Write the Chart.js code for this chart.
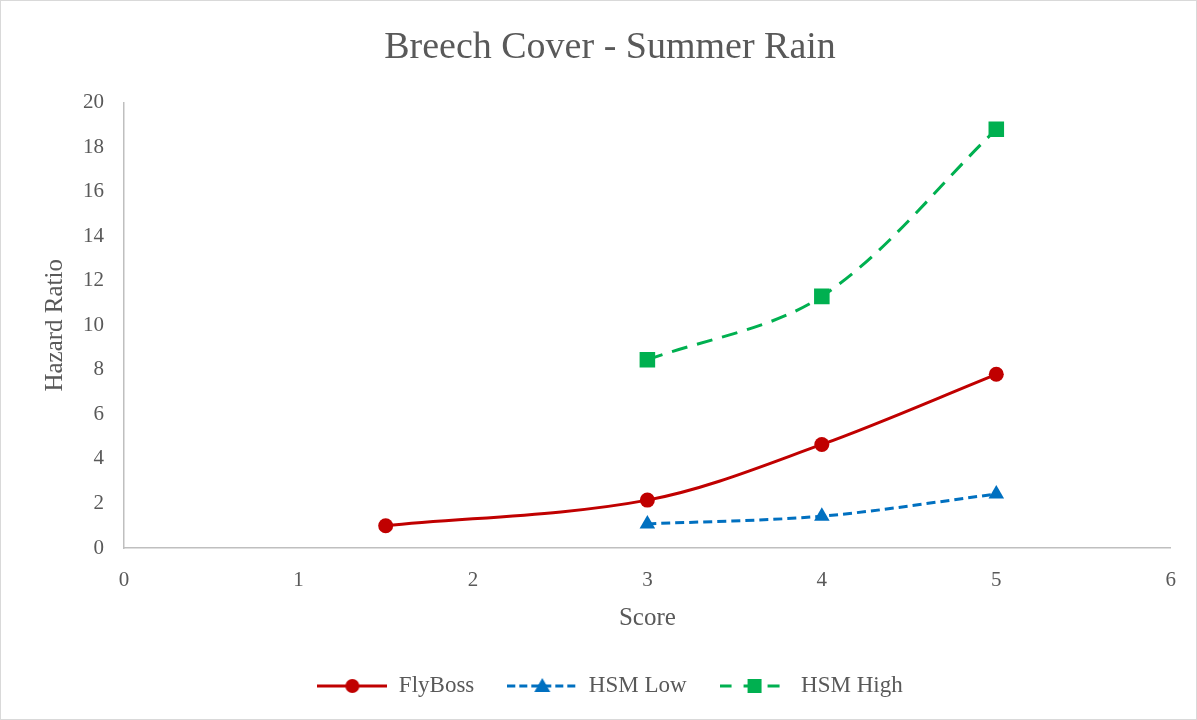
<!DOCTYPE html>
<html>
<head>
<meta charset="utf-8">
<script src="https://cdn.jsdelivr.net/npm/chart.js@4/dist/chart.umd.min.js"></script>
<style>
  html, body { margin: 0; padding: 0; background: #fff; }
  #wrap { width: 1195px; height: 718px; border: 1px solid #d9d9d9; position: relative; }
</style>
</head>
<body>
<div id="wrap"><canvas id="chart"></canvas></div>
<script>
"use strict";
const flyBossScore = [1.5, 3, 4, 5];
const flyBossHR = [1.0, 2.15, 4.65, 7.8];
const hsmScore = [3, 4, 5];
const hsmLowHR = [1.08, 1.43, 2.42];
const hsmHighHR = [8.45, 11.3, 18.8];
const seriesNames = ['FlyBoss', 'HSM Low', 'HSM High'];
const xTicks = [0, 1, 2, 3, 4, 5, 6];
const yTicks = [0, 2, 4, 6, 8, 10, 12, 14, 16, 18, 20];

const red = '#C00000';
const blue = '#0070C0';
const green = '#00B050';
const textGray = '#595959';
const serif = "'Liberation Serif', 'DejaVu Serif', serif";

function toPoints(xs, ys) {
    return xs.map((x, i) => ({ x: x, y: ys[i] }));
}

// legend icon: a short piece of the line with its marker in the middle
function makeLegendIcon(color, dash, marker) {
    const c = document.createElement('canvas');
    c.width = 70;
    c.height = 22;
    const ctx = c.getContext('2d');
    ctx.strokeStyle = color;
    ctx.fillStyle = color;
    ctx.lineWidth = 3;
    ctx.setLineDash(dash);
    ctx.beginPath();
    ctx.moveTo(0, 11);
    ctx.lineTo(70, 11);
    ctx.stroke();
    ctx.setLineDash([]);
    ctx.beginPath();
    if (marker === 'circle') {
        ctx.arc(35, 11, 7, 0, Math.PI * 2);
    } else if (marker === 'triangle') {
        ctx.moveTo(35, 3);
        ctx.lineTo(43, 17);
        ctx.lineTo(27, 17);
        ctx.closePath();
    } else {
        ctx.rect(28, 4, 14, 14);
    }
    ctx.fill();
    return c;
}

const legendIcons = [
    makeLegendIcon(red, [], 'circle'),
    makeLegendIcon(blue, [8, 4], 'triangle'),
    makeLegendIcon(green, [12, 12], 'rect')
];

const ctx = document.getElementById('chart');
const chart = new Chart(ctx, {
    type: 'scatter',
    data: {
        datasets: [
            {
                label: seriesNames[0],
                data: toPoints(flyBossScore, flyBossHR),
                showLine: true,
                borderColor: red,
                backgroundColor: red,
                borderWidth: 3,
                tension: 0.33,
                pointStyle: 'circle',
                pointRadius: 7.5,
                pointHoverRadius: 7.5,
                pointBorderWidth: 0
            },
            {
                label: seriesNames[1],
                data: toPoints(hsmScore, hsmLowHR),
                showLine: true,
                borderColor: blue,
                backgroundColor: blue,
                borderWidth: 3,
                borderDash: [9, 5],
                tension: 0.33,
                pointStyle: 'triangle',
                pointRadius: 9,
                pointHoverRadius: 9,
                pointBorderWidth: 0
            },
            {
                label: seriesNames[2],
                data: toPoints(hsmScore, hsmHighHR),
                showLine: true,
                borderColor: green,
                backgroundColor: green,
                borderWidth: 3,
                borderDash: [16, 10],
                tension: 0.33,
                pointStyle: 'rect',
                pointRadius: 11,
                pointHoverRadius: 11,
                pointBorderWidth: 0
            }
        ]
    },
    options: {
        responsive: true,
        maintainAspectRatio: false,
        animation: false,
        layout: { padding: { left: 48, right: 25, top: 0, bottom: 11.5 } },
        plugins: {
            title: {
                display: true,
                text: 'Breech Cover - Summer Rain',
                color: textGray,
                font: { family: serif, size: 38, weight: 'normal' },
                padding: { top: 24, bottom: 32 }
            },
            legend: {
                position: 'bottom',
                labels: {
                    usePointStyle: true,
                    pointStyleWidth: 70,
                    padding: 33,
                    color: textGray,
                    font: { family: serif, size: 23 },
                    generateLabels: (c) => {
                        const items = Chart.defaults.plugins.legend.labels.generateLabels(c);
                        items.forEach((item, i) => { item.pointStyle = legendIcons[i]; });
                        return items;
                    }
                }
            },
            tooltip: { enabled: false }
        },
        scales: {
            x: {
                type: 'linear',
                min: xTicks[0],
                max: xTicks[xTicks.length - 1],
                afterBuildTicks: (scale) => { scale.ticks = xTicks.map(v => ({ value: v })); },
                grid: { display: false, drawTicks: false },
                border: { display: true, color: '#bfbfbf', width: 1.5 },
                ticks: { color: textGray, padding: 20, font: { family: serif, size: 21 } },
                title: {
                    display: true,
                    text: 'Score',
                    color: textGray,
                    font: { family: serif, size: 25 },
                    padding: { top: 0, bottom: 8.5 }
                },
                afterFit: (scale) => { scale.height = 93.5; }
            },
            y: {
                type: 'linear',
                min: yTicks[0],
                max: yTicks[yTicks.length - 1],
                afterBuildTicks: (scale) => { scale.ticks = yTicks.map(v => ({ value: v })); },
                grid: { display: false, drawTicks: false },
                border: { display: true, color: '#bfbfbf', width: 1.5 },
                ticks: { color: textGray, padding: 20, font: { family: serif, size: 21 } },
                title: {
                    display: true,
                    text: 'Hazard Ratio',
                    color: textGray,
                    font: { family: serif, size: 25 },
                    padding: { top: -9, bottom: 0 }
                },
                afterFit: (scale) => { scale.width = 75; }
            }
        }
    }
});
</script>
</body>
</html>
